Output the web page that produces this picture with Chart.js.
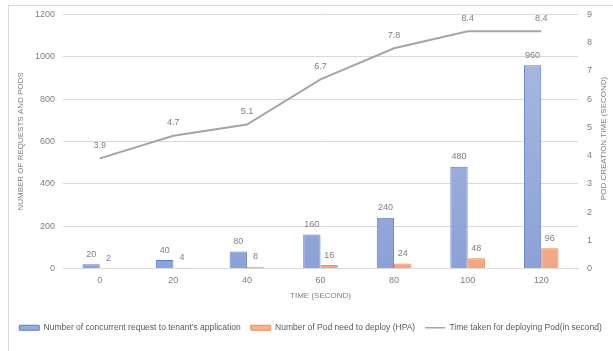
<!DOCTYPE html>
<html>
<head>
<meta charset="utf-8">
<script src="https://cdn.jsdelivr.net/npm/chart.js@4.4.1/dist/chart.umd.min.js"></script>
<style>
  html, body { margin: 0; padding: 0; background: #ffffff; }
  #wrap { position: relative; width: 613px; height: 351px; overflow: hidden; }
  #frame { position: absolute; left: 8px; top: 5px; width: 700px; height: 400px;
           border-left: 1px solid #d9d9d9; border-top: 1px solid #d9d9d9; box-sizing: border-box; }
  canvas { position: absolute; left: 0; top: 0; }
</style>
</head>
<body>
<div id="wrap">
  <div id="frame"></div>
  <canvas id="c" width="613" height="351"></canvas>
</div>
<script>
// Time since start of the load test (seconds)
const timeLabels = ['0', '20', '40', '60', '80', '100', '120'];
// Concurrent requests sent to the tenant's application
const concurrentRequests = [20, 40, 80, 160, 240, 480, 960];
// Pods the HPA needs to deploy
const podsToDeploy = [2, 4, 8, 16, 24, 48, 96];
// Time taken to deploy the pods (seconds)
const podCreationTime = [3.9, 4.7, 5.1, 6.7, 7.8, 8.4, 8.4];

const FONT = "'Liberation Sans', Arial, sans-serif";
const TEXT = '#7f7f7f';

function vGradient(ctx, top, bottom) {
  const chart = ctx.chart;
  const area = chart.chartArea;
  if (!area) return top;
  const g = chart.ctx.createLinearGradient(0, area.top, 0, area.bottom);
  g.addColorStop(0, top);
  g.addColorStop(1, bottom);
  return g;
}

// Value labels above bars and line points
const valueLabels = {
  id: 'valueLabels',
  afterDatasetsDraw(chart) {
    const ctx = chart.ctx;
    ctx.save();
    ctx.font = '9px ' + FONT;
    ctx.fillStyle = TEXT;
    ctx.textAlign = 'center';
    ctx.textBaseline = 'middle';
    chart.data.datasets.forEach((ds, i) => {
      const meta = chart.getDatasetMeta(i);
      const offset = ds.type === 'line' ? 13 : 10;
      meta.data.forEach((el, j) => {
        ctx.fillText(String(ds.data[j]), el.x, el.y - offset);
      });
    });
    ctx.restore();
  }
};

// Right axis title, reading bottom to top
const rightTitle = {
  id: 'rightTitle',
  afterDraw(chart) {
    const ctx = chart.ctx;
    const area = chart.chartArea;
    ctx.save();
    ctx.font = '8px ' + FONT;
    ctx.fillStyle = TEXT;
    ctx.textAlign = 'center';
    ctx.textBaseline = 'middle';
    ctx.translate(604, (area.top + area.bottom) / 2 - 3);
    ctx.rotate(-Math.PI / 2);
    ctx.fillText('POD CREATION TIME (SECOND)', 0, 0);
    ctx.restore();
  }
};

new Chart(document.getElementById('c'), {
  data: {
    labels: timeLabels,
    datasets: [
      {
        type: 'bar',
        label: "Number of concurrent request to tenant's application",
        data: concurrentRequests,
        yAxisID: 'y',
        backgroundColor: ctx => vGradient(ctx, '#adbbe2', '#8ca1d6'),
        borderColor: '#5b7fc8',
        borderWidth: 1,
        barPercentage: 1,
        categoryPercentage: 0.47,
        order: 2
      },
      {
        type: 'bar',
        label: 'Number of Pod need to deploy (HPA)',
        data: podsToDeploy,
        yAxisID: 'y',
        backgroundColor: ctx => vGradient(ctx, '#f9c9b0', '#f3a583'),
        borderColor: '#f08a52',
        borderWidth: 1,
        barPercentage: 1,
        categoryPercentage: 0.47,
        order: 2
      },
      {
        type: 'line',
        label: 'Time taken for deploying Pod(in second)',
        data: podCreationTime,
        yAxisID: 'y1',
        borderColor: '#a5a5a5',
        backgroundColor: '#a5a5a5',
        borderWidth: 2,
        pointRadius: 0,
        tension: 0,
        order: 1
      }
    ]
  },
  options: {
    responsive: false,
    animation: false,
    layout: { padding: { left: 8, right: 0, top: 10, bottom: 9 } },
    plugins: {
      tooltip: { enabled: false },
      legend: {
        position: 'bottom',
        labels: {
          font: { family: FONT, size: 8.5 },
          color: '#595959',
          usePointStyle: true,
          pointStyleWidth: 20,
          boxHeight: 5,
          padding: 10,
          generateLabels(chart) {
            return chart.data.datasets.map((ds, i) => ({
              text: ds.label,
              datasetIndex: i,
              fillStyle: ds.type === 'line' ? ds.borderColor : (i === 0 ? '#9aacdc' : '#f5b293'),
              strokeStyle: ds.borderColor,
              lineWidth: ds.type === 'line' ? 1.5 : 1,
              pointStyle: ds.type === 'line' ? 'line' : 'rect',
              fontColor: '#595959'
            }));
          }
        }
      }
    },
    scales: {
      x: {
        grid: { display: false, drawTicks: false },
        border: { color: '#d9d9d9' },
        ticks: { font: { family: FONT, size: 9 }, color: TEXT, padding: 7 },
        title: { display: true, text: 'TIME (SECOND)', font: { family: FONT, size: 8 }, color: TEXT, padding: { top: 4, bottom: 13 } },
        afterFit(scale) { scale.height = 45; }
      },
      y: {
        position: 'left',
        min: 0, max: 1200,
        ticks: { stepSize: 200, font: { family: FONT, size: 9 }, color: TEXT, padding: 8,
                 callback: v => String(v) },
        grid: { color: '#d9d9d9', drawTicks: false },
        border: { display: false },
        title: { display: true, text: 'NUMBER OF REQUESTS AND PODS', font: { family: FONT, size: 8 }, color: TEXT, padding: { top: 8, bottom: 2 } },
        afterFit(scale) { scale.width = 55; }
      },
      y1: {
        position: 'right',
        min: 0, max: 9,
        ticks: { stepSize: 1, font: { family: FONT, size: 9 }, color: TEXT, padding: 9 },
        grid: { display: false, drawTicks: false },
        border: { display: false },
        afterFit(scale) { scale.width = 35; }
      }
    }
  },
  plugins: [valueLabels, rightTitle]
});
</script>
</body>
</html>
